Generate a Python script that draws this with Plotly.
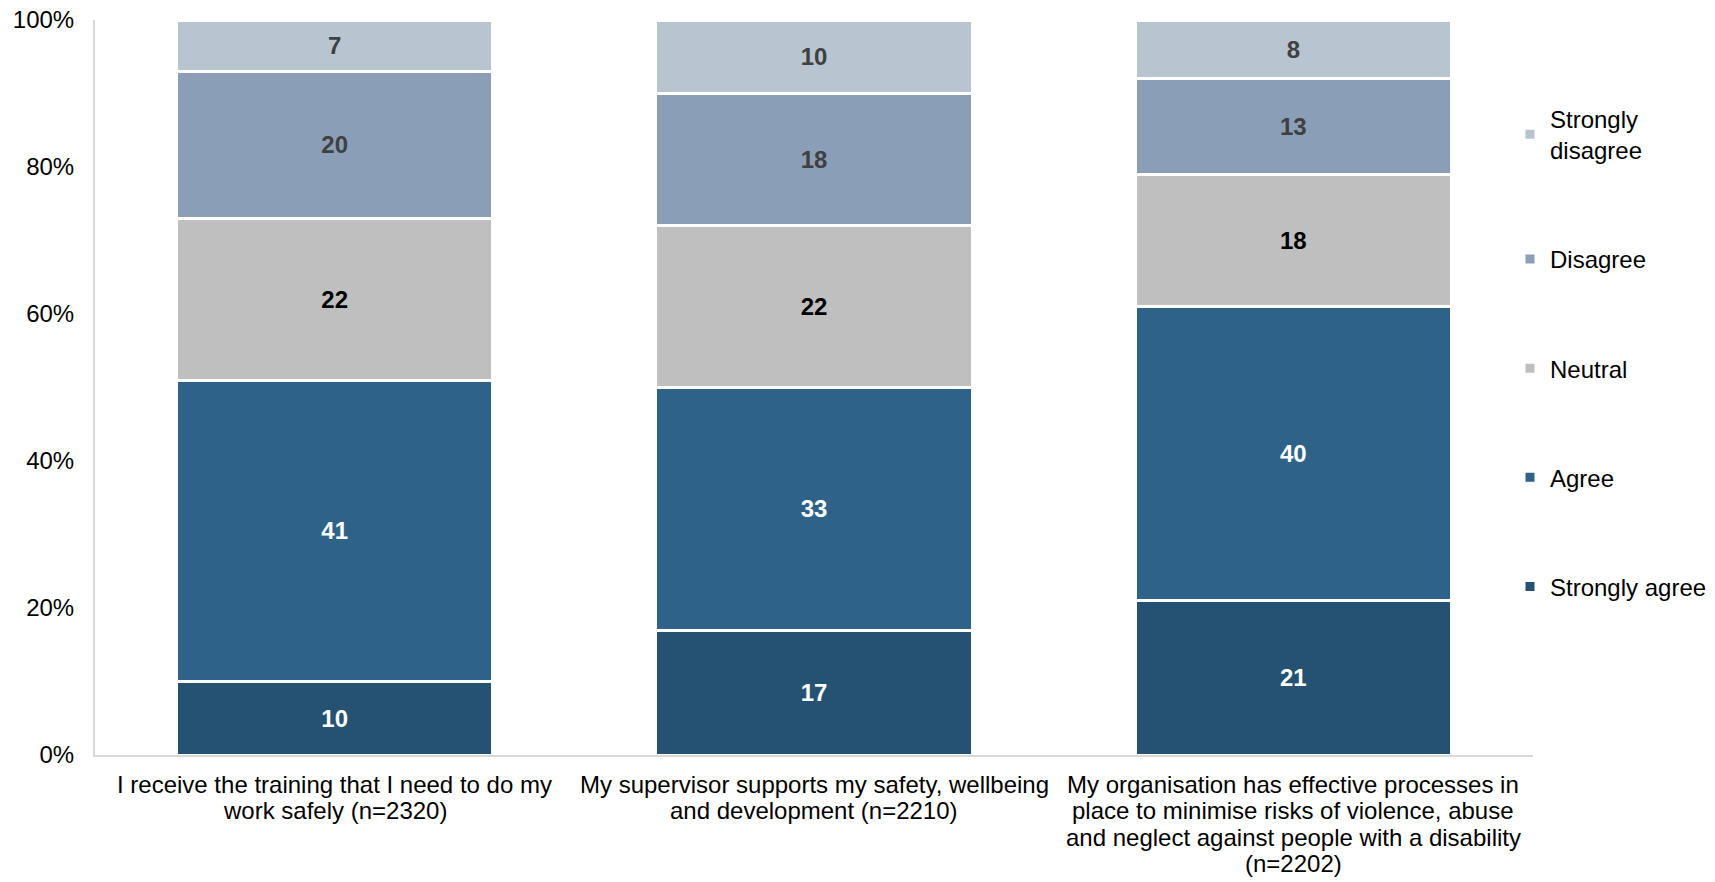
import plotly.graph_objects as go

categories = [
    'I receive the training that I need to do my<br>work safely (n=2320)',
    'My supervisor supports my safety, wellbeing<br>and development (n=2210)',
    'My organisation has effective processes in<br>place to minimise risks of violence, abuse<br>and neglect against people with a disability<br>(n=2202)',
]

strongly_agree = [10, 17, 21]
agree = [41, 33, 40]
neutral = [22, 22, 18]
disagree = [20, 18, 13]
strongly_disagree = [7, 10, 8]

tick_vals = [0, 20, 40, 60, 80, 100]
tick_text = ['0%', '20%', '40%', '60%', '80%', '100%']

FONT = 'Arial, Liberation Sans, sans-serif'

series = [
    ('Strongly agree', strongly_agree, '#255273', '#FFFFFF'),
    ('Agree', agree, '#2E6288', '#FFFFFF'),
    ('Neutral', neutral, '#BFBFBF', '#000000'),
    ('Disagree', disagree, '#8A9FB7', '#404040'),
    ('Strongly<br>disagree', strongly_disagree, '#B8C4D0', '#404040'),
]

fig = go.Figure()

# legend shows top segment first
for i, (name, vals, color, txtcol) in enumerate(series):
    fig.add_trace(go.Bar(
        x=categories, y=vals, name=name, legendgroup=name,
        legendrank=len(series) - i,
        marker=dict(color=color, line=dict(color='white', width=3)),
        text=vals, texttemplate='<b>%{text}</b>',
        textposition='inside', insidetextanchor='middle', textangle=0,
        constraintext='none',
        textfont=dict(family=FONT, size=24, color=txtcol),
    ))

# category labels as annotations, one per line, to get tighter line spacing
for cat in categories:
    for j, line in enumerate(cat.split('<br>')):
        fig.add_annotation(
            x=cat, y=0, xref='x', yref='paper',
            text=line, showarrow=False,
            xanchor='center', yanchor='middle',
            yshift=-29 - j * 26.6,
            font=dict(family=FONT, size=24, color='#000000'),
        )

# page body adds an 8px margin, so the figure is 8px smaller than the window
fig.update_layout(
    barmode='stack',
    bargap=0.34,
    width=1707, height=874,
    margin=dict(l=87, r=182, t=12, b=127, autoexpand=False),
    paper_bgcolor='white', plot_bgcolor='white',
    font=dict(family=FONT, size=24, color='#000000'),
    showlegend=True,
    legend=dict(
        x=0.984, xanchor='left', y=0.896, yanchor='top',
        traceorder='grouped', tracegroupgap=75,
        font=dict(family=FONT, size=24, color='#000000'),
        itemwidth=30, bgcolor='rgba(0,0,0,0)',
    ),
    xaxis=dict(
        showline=True, linecolor='#D9D9D9', linewidth=2,
        showgrid=False, ticks='', showticklabels=False, automargin=False,
    ),
    yaxis=dict(
        range=[0, 100], tickvals=tick_vals, ticktext=tick_text,
        showline=True, linecolor='#D9D9D9', linewidth=2,
        showgrid=False, zeroline=False, ticks='', ticklabelstandoff=14,
        ticklabeloverflow='allow', automargin=False,
        tickfont=dict(family=FONT, size=24, color='#000000'),
    ),
)

fig.write_html('out.html')
